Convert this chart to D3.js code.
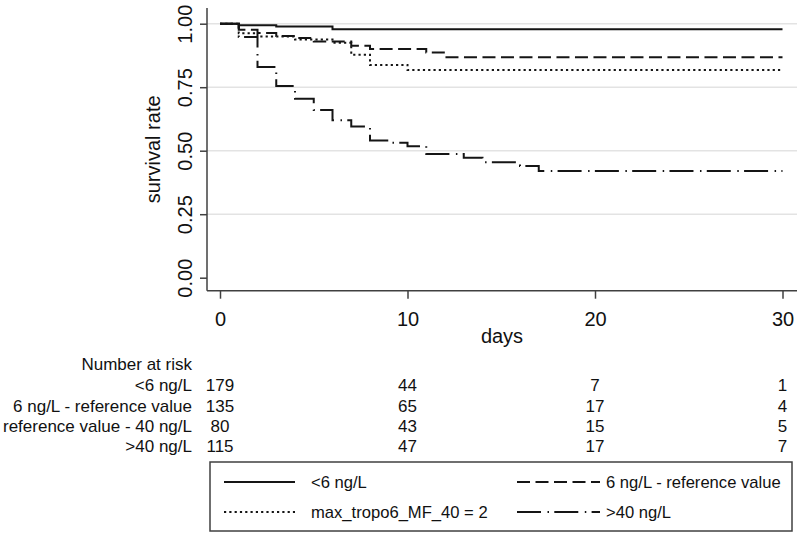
<!DOCTYPE html>
<html>
<head>
<meta charset="utf-8">
<script src="https://cdn.jsdelivr.net/npm/d3@7"></script>
<style>
  html, body { margin: 0; padding: 0; background: #fff; }
  svg { display: block; font-family: "Liberation Sans", Arial, sans-serif; }
</style>
</head>
<body>
<svg id="chart" width="800" height="535"></svg>
<script>
// ---- data ----
const seriesNames = ["<6 ng/L", "6 ng/L - reference value", "reference value - 40 ng/L", ">40 ng/L"];
const legendNames = ["<6 ng/L", "6 ng/L - reference value", "max_tropo6_MF_40 = 2", ">40 ng/L"];

const timesLow = [0, 1, 3, 6, 30];
const survLow  = [1, 0.994, 0.989, 0.978, 0.978];

const timesRef = [0, 1, 2, 3, 4, 5, 7, 8, 11, 12, 30];
const survRef  = [1, 0.976, 0.963, 0.952, 0.944, 0.93, 0.913, 0.9, 0.887, 0.868, 0.868];

const timesMid = [0, 1, 2, 4, 6, 7, 8, 10, 30];
const survMid  = [1, 0.9625, 0.95, 0.9375, 0.925, 0.8775, 0.8375, 0.818, 0.818];

const timesHigh = [0, 1, 2, 3, 4, 5, 6, 7, 8, 9, 10, 11, 13, 14, 16, 17, 30];
const survHigh  = [1, 0.948, 0.83, 0.755, 0.705, 0.66, 0.62, 0.595, 0.54, 0.531, 0.518, 0.487, 0.472, 0.455, 0.44, 0.42, 0.42];

const xTicks = [0, 10, 20, 30];
const yTicks = [0, 0.25, 0.5, 0.75, 1];
const riskTimes = [0, 10, 20, 30];
const riskLow  = [179, 44, 7, 1];
const riskRef  = [135, 65, 17, 4];
const riskMid  = [80, 43, 15, 5];
const riskHigh = [115, 47, 17, 7];

// ---- layout ----
const svg = d3.select("#chart");
const ink = "#111";
const axisCol = "#404040";
const lineCol = "#151515";
const dashes = [null, "13,5.5", "2.2,3.1", "24,6.5,1.5,5.3"];

const x = d3.scaleLinear().domain([0, 30]).range([220, 782.5]);
const y = d3.scaleLinear().domain([0, 1]).range([277.7, 23.7]);
const axisY = 290.7, axisX = 207, plotRight = 797, plotTop = 8;

// grid
svg.append("g").selectAll("line").data(yTicks.filter(d => d > 0)).join("line")
  .attr("x1", axisX).attr("x2", plotRight)
  .attr("y1", d => y(d)).attr("y2", d => y(d))
  .attr("stroke", "#e3e3e3").attr("stroke-width", 1.5);

// curves
const series = [
  {t: timesLow, s: survLow},
  {t: timesRef, s: survRef},
  {t: timesMid, s: survMid},
  {t: timesHigh, s: survHigh}
];
const line = d3.line().x(d => x(d[0])).y(d => y(d[1])).curve(d3.curveStepAfter);
series.forEach((sr, i) => {
  const pts = sr.t.map((t, j) => [t, sr.s[j]]);
  svg.append("path").attr("d", line(pts))
    .attr("fill", "none").attr("stroke", lineCol).attr("stroke-width", 2)
    .attr("stroke-dasharray", dashes[i]);
});

// axes
const gx = svg.append("g").attr("transform", `translate(0,${axisY})`)
  .call(d3.axisBottom(x).tickValues(xTicks).tickSize(8).tickFormat(d3.format("d")));
gx.select(".domain").remove();
gx.selectAll(".tick line").attr("stroke", axisCol).attr("stroke-width", 1.5);
gx.selectAll(".tick text").attr("y", 35.5).attr("dy", null)
  .attr("font-size", 20).attr("fill", ink).attr("font-family", "Liberation Sans, Arial, sans-serif");
svg.append("line").attr("x1", axisX).attr("x2", plotRight).attr("y1", axisY).attr("y2", axisY)
  .attr("stroke", axisCol).attr("stroke-width", 1.5);

const gy = svg.append("g").attr("transform", `translate(${axisX},0)`)
  .call(d3.axisLeft(y).tickValues(yTicks).tickSize(7).tickFormat(d3.format(".2f")));
gy.select(".domain").remove();
gy.selectAll(".tick line").attr("stroke", axisCol).attr("stroke-width", 1.5);
gy.selectAll(".tick text").attr("x", null).attr("dy", null)
  .attr("transform", "translate(-15,0) rotate(-90)")
  .attr("text-anchor", "middle")
  .attr("font-size", 20).attr("fill", ink).attr("font-family", "Liberation Sans, Arial, sans-serif");
svg.append("line").attr("x1", axisX).attr("x2", axisX).attr("y1", plotTop).attr("y2", axisY)
  .attr("stroke", axisCol).attr("stroke-width", 1.5);

// axis titles
svg.append("text").attr("x", (axisX + plotRight) / 2).attr("y", 343)
  .attr("text-anchor", "middle").attr("font-size", 20).attr("fill", ink).text("days");
svg.append("text").attr("transform", `translate(160,${(plotTop + axisY) / 2}) rotate(-90)`)
  .attr("text-anchor", "middle").attr("font-size", 20).attr("fill", ink).text("survival rate");

// risk table
const tbl = svg.append("g").attr("font-size", 17).attr("fill", ink);
tbl.append("text").attr("x", 192).attr("y", 370).attr("text-anchor", "end").text("Number at risk");
const riskRows = [riskLow, riskRef, riskMid, riskHigh];
const rowY = [391, 411.5, 432, 452];
riskRows.forEach((row, i) => {
  tbl.append("text").attr("x", 192).attr("y", rowY[i]).attr("text-anchor", "end").text(seriesNames[i]);
  tbl.selectAll(null).data(row).join("text")
    .attr("x", (d, j) => x(riskTimes[j])).attr("y", rowY[i])
    .attr("text-anchor", "middle").text(d => d);
});

// legend
const lg = svg.append("g");
lg.append("rect").attr("x", 210).attr("y", 462).attr("width", 582).attr("height", 69)
  .attr("fill", "#fff").attr("stroke", axisCol).attr("stroke-width", 1.5);
const legPos = [[224, 482], [517, 482], [224, 512], [517, 512]];
legendNames.forEach((name, i) => {
  const [lx, ly] = legPos[i];
  const w = i % 2 === 0 ? 71 : 83;
  lg.append("line").attr("x1", lx).attr("x2", lx + w).attr("y1", ly).attr("y2", ly)
    .attr("stroke", lineCol).attr("stroke-width", 2).attr("stroke-dasharray", dashes[i]);
  lg.append("text").attr("x", i % 2 === 0 ? 311 : 606).attr("y", ly + 6)
    .attr("font-size", 16.6).attr("fill", ink).text(name);
});
</script>
</body>
</html>
